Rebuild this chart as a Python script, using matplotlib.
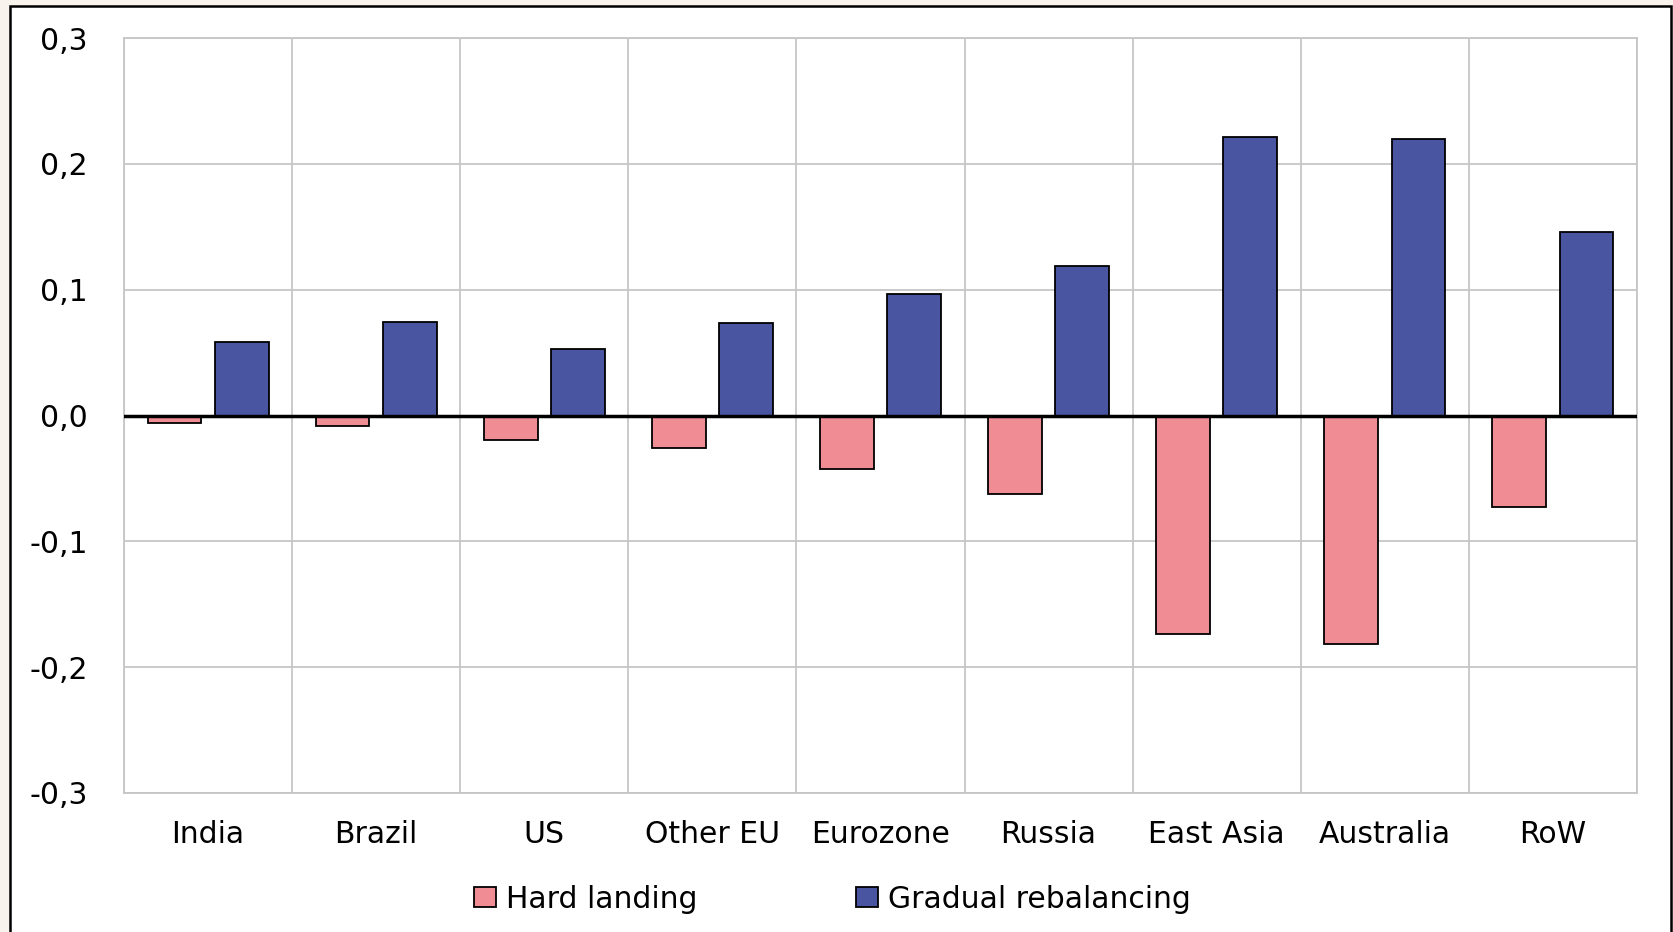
import matplotlib
matplotlib.use("Agg")
import matplotlib.pyplot as plt
from matplotlib.patches import Rectangle
import numpy as np

categories = ["India", "Brazil", "US", "Other EU", "Eurozone", "Russia",
              "East Asia", "Australia", "RoW"]
hard_landing = [-0.006, -0.0085, -0.0195, -0.0255, -0.0425, -0.062,
                -0.1735, -0.1815, -0.073]
gradual_rebalancing = [0.0585, 0.0745, 0.0525, 0.0737, 0.0967, 0.1187,
                       0.2213, 0.2198, 0.1458]
series_names = ["Hard landing", "Gradual rebalancing"]
y_ticks = [-0.3, -0.2, -0.1, 0.0, 0.1, 0.2, 0.3]
y_tick_labels = ["-0,3", "-0,2", "-0,1", "0,0", "0,1", "0,2", "0,3"]

W, H = 1674, 932
PINK = "#F08C94"
BLUE = "#4A55A2"
GRID = "#C6C6C6"
CREAM = "#F8F3EC"
FS = 21.5

plt.rcParams["font.family"] = ["DejaVu Sans"]

fig = plt.figure(figsize=(W / 100, H / 100), dpi=100)
fig.patch.set_facecolor(CREAM)

# outer white frame with black border
frame = Rectangle((10.5 / W, -0.02), (1671 - 10.5) / W, 1.02 - 6.5 / H,
                  transform=fig.transFigure, facecolor="white",
                  edgecolor="black", linewidth=1.8, zorder=-10)
fig.patches.append(frame)

left, right, top, bottom = 124, 1637, 38, 793
ax = fig.add_axes([left / W, 1 - bottom / H, (right - left) / W, (bottom - top) / H])
ax.set_facecolor("white")
ax.set_zorder(5)

x = np.arange(len(categories))
bw = 0.32
off = 0.2
ax.bar(x - off, hard_landing, bw, color=PINK, edgecolor="black", linewidth=1.3,
       zorder=3, label=series_names[0])
ax.bar(x + off, gradual_rebalancing, bw, color=BLUE, edgecolor="black", linewidth=1.3,
       zorder=3, label=series_names[1])

ax.set_xlim(-0.5, len(categories) - 0.5)
ax.set_ylim(-0.3, 0.3)

ax.set_yticks(y_ticks)
ax.set_yticklabels(y_tick_labels, fontsize=FS)
ax.set_xticks(x)
ax.set_xticklabels(categories, fontsize=FS)
ax.set_xticks(np.arange(-0.5, len(categories), 1.0), minor=True)
ax.tick_params(axis="both", which="both", length=0)
ax.tick_params(axis="y", pad=26)
ax.tick_params(axis="x", pad=19.5)

ax.grid(axis="y", which="major", color=GRID, linewidth=1.3, zorder=1)
ax.grid(axis="x", which="minor", color=GRID, linewidth=1.3, zorder=1)
ax.grid(axis="x", which="major", visible=False)
for s in ax.spines.values():
    s.set_color(GRID)
    s.set_linewidth(1.3)
ax.set_axisbelow(True)
ax.axhline(0, color="black", linewidth=2.5, zorder=4)

leg = ax.legend(loc="center", bbox_to_anchor=(832.5 / W, 1 - 899 / H),
                bbox_transform=fig.transFigure, ncol=2, frameon=False,
                fontsize=FS, handlelength=0.74, handleheight=0.63,
                handletextpad=0.33, columnspacing=5.3, borderpad=0)

fig.savefig("out.png", dpi=100, facecolor=fig.get_facecolor())
